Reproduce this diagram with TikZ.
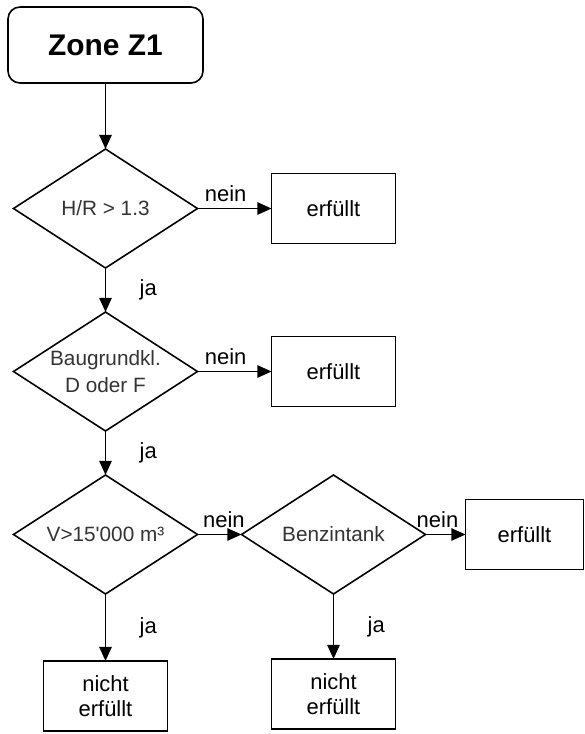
\documentclass[tikz,border=0pt]{standalone}
\usepackage{fontspec}
\setmainfont{Liberation Sans}
\usetikzlibrary{arrows.meta, positioning, shapes.geometric}

\begin{document}
\begin{tikzpicture}[node distance=0.88cm, >={Triangle[length=8pt,width=7pt]}, line width=0.9pt,
    startbox/.style={draw, outer sep=0pt, rounded corners=0.24cm, minimum width=3.9cm, minimum height=1.52cm, font=\fontsize{17}{20}\selectfont\bfseries},
    decision/.style={draw, diamond, outer sep=0pt, aspect=1.55, inner sep=0pt, minimum width=3.68cm, minimum height=2.38cm, align=center, text=black!80, font=\fontsize{11.8}{15}\selectfont},
    result/.style={draw, outer sep=0pt, minimum width=2.48cm, minimum height=1.4cm, align=center, font=\fontsize{12.5}{14.6}\selectfont},
    lbl/.style={font=\fontsize{12.5}{14.6}\selectfont}]
    \useasboundingbox (0,0) rectangle (11.7,-14.68);

    \node (zone) [startbox] at (2.11,-0.9) {Zone Z1};
    \node (hr) [decision, below=1.32cm of zone] {H/R > 1.3};
    \node (erf1) [result, right=1.48cm of hr] {erfüllt};
    \node (baugrund) [decision, below=of hr] {Baugrundkl.\\D oder F};
    \node (erf2) [result, right=1.48cm of baugrund] {erfüllt};
    \node (volumen) [decision, below=of baugrund] {V>15\textquotesingle 000 m³};
    \node (benzin) [decision, right=of volumen] {Benzintank};
    \node (erf3) [result, minimum width=2.36cm, right=0.8cm of benzin] {erfüllt};
    \node (nicht1) [result, below=1.34cm of volumen] {nicht\\erfüllt};
    \node (nicht2) [result, below=1.3cm of benzin] {nicht\\erfüllt};

    \draw[->] (zone) -- (hr);
    \draw[->] (hr) -- node[lbl, above, pos=0.38] {nein} (erf1);
    \draw[->] (hr) -- node[lbl, right=0.55cm] {ja} (baugrund);
    \draw[->] (baugrund) -- node[lbl, above, pos=0.38] {nein} (erf2);
    \draw[->] (baugrund) -- node[lbl, right=0.55cm] {ja} (volumen);
    \draw[->] (volumen) -- node[lbl, above, pos=0.6] {nein} (benzin);
    \draw[->] (benzin) -- node[lbl, above, pos=0.3] {nein} (erf3);
    \draw[->] (volumen) -- node[lbl, right=0.55cm] {ja} (nicht1);
    \draw[->] (benzin) -- node[lbl, right=0.55cm] {ja} (nicht2);
\end{tikzpicture}
\end{document}
